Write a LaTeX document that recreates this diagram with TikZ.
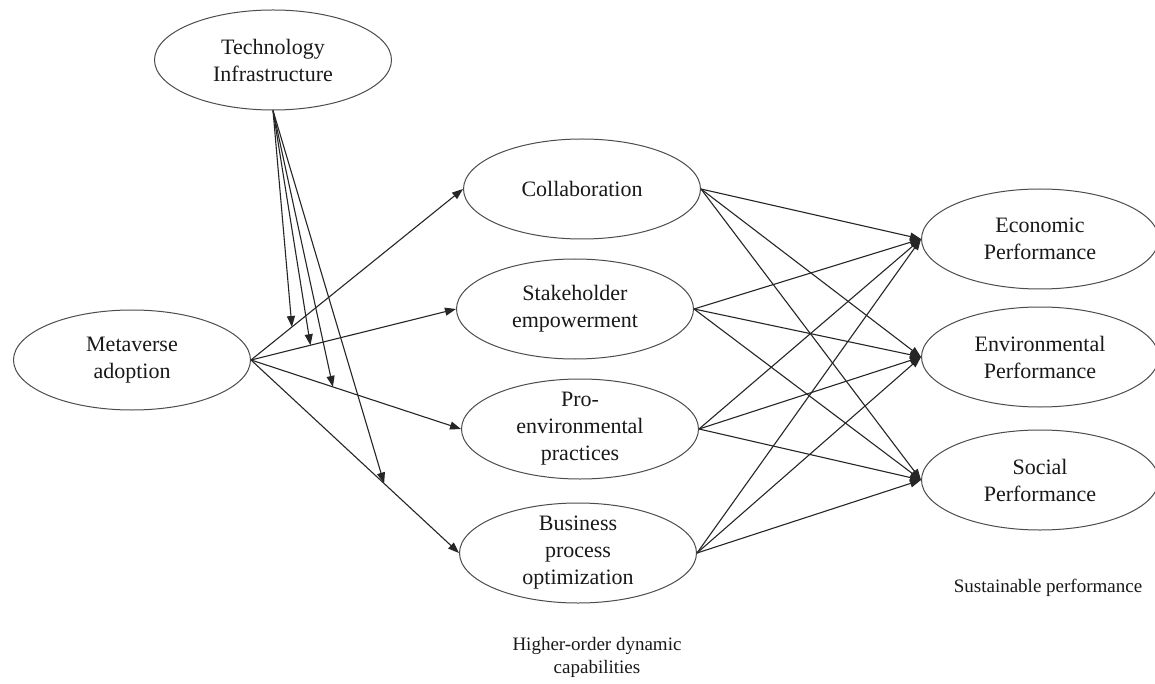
\documentclass[tikz,border=0pt]{standalone}
\usepackage{fontspec}
\setmainfont{Liberation Serif}
\usetikzlibrary{shapes.geometric,arrows.meta,calc}
\tikzset{
  ell/.style={ellipse, draw=black!70, line width=1pt, inner sep=0pt, minimum width=237pt, minimum height=100pt},
  txt/.style={align=center, font=\fontsize{22}{27}\selectfont, text=black!90, inner sep=0pt},
  captxt/.style={align=center, font=\fontsize{19}{23}\selectfont, text=black!90, inner sep=0pt},
  arr/.style={draw=black!85, line width=1.1pt, -{Triangle[length=11pt,width=8pt]}}
}
\begin{document}
\begin{tikzpicture}[x=1pt,y=-1pt]
\useasboundingbox[fill=white] (0,0) rectangle (1155,684);
% ellipses
\node[ell] (T) at (273,60) {};
\node[ell] (M) at (132,360) {};
\node[ell] (C) at (582,189) {};
\node[ell] (S) at (575,309) {};
\node[ell] (P) at (580,429) {};
\node[ell] (B) at (578,553) {};
\node[ell] (E) at (1040,239) {};
\node[ell] (N) at (1040,357) {};
\node[ell] (O) at (1040,480) {};
% texts
\node[txt] (tT) at (T) {Technology\\Infrastructure};
\node[txt] (tM) at (M) {Metaverse\\adoption};
\node[txt] (tC) at (C) {Collaboration};
\node[txt] (tS) at (S) {Stakeholder\\empowerment};
\node[txt] (tP) at (P) {Pro-\\environmental\\practices};
\node[txt] (tB) at (B) {Business\\process\\optimization};
\node[txt] (tE) at (E) {Economic\\Performance};
\node[txt] (tN) at (N) {Environmental\\Performance};
\node[txt] (tO) at (O) {Social\\Performance};
\node[captxt] (l1) at (597,657) {Higher-order dynamic\\capabilities};
\node[captxt] (l2) at (1048,588) {Sustainable performance};
% metaverse to mediators
\foreach \X in {C,S,P,B} \draw[arr] (M.east) -- (\X.west);
% moderation points
\coordinate (mC) at ($(M.east)!0.193!(C.west)$);
\coordinate (mS) at ($(M.east)!0.29!(S.west)$);
\coordinate (mP) at ($(M.east)!0.39!(P.west)$);
\coordinate (mB) at ($(M.east)!0.64!(B.west)$);
\foreach \X in {mC,mS,mP,mB} \draw[arr] (T.south) -- (\X);
% mediators to outcomes
\foreach \X in {C,S,P,B} {
  \foreach \Y in {E,N,O} \draw[arr] (\X.east) -- (\Y.west);
}
\end{tikzpicture}
\end{document}
